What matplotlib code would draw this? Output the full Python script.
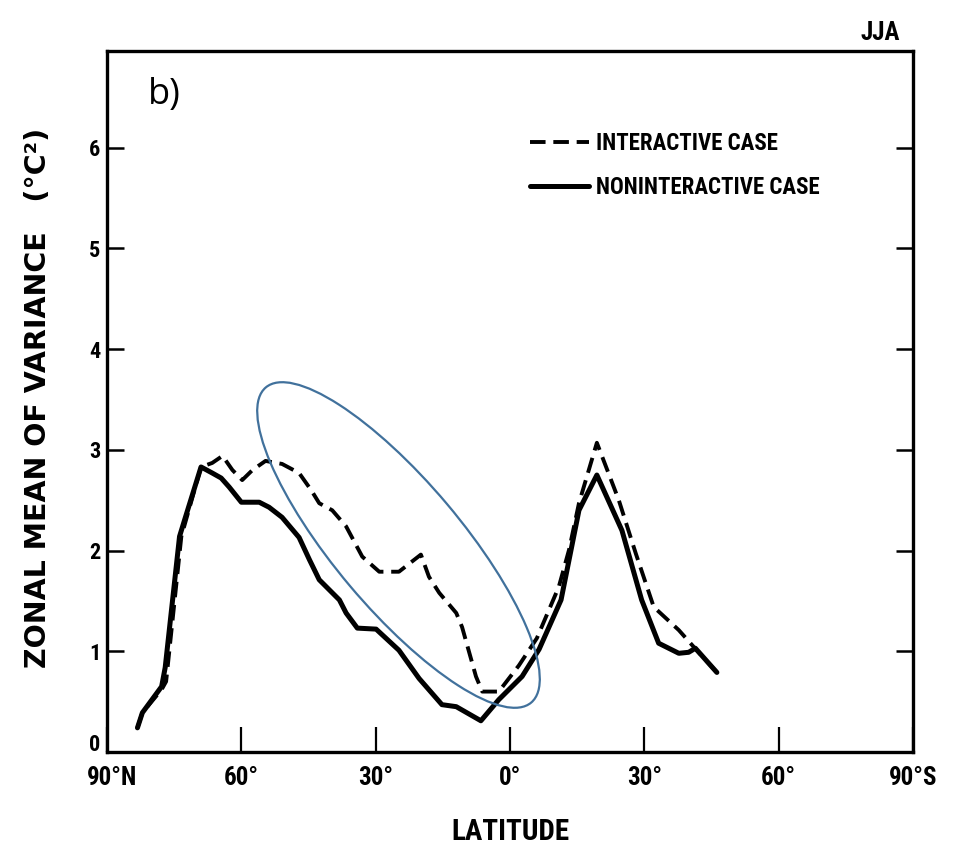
import numpy as np
import matplotlib
matplotlib.use('Agg')
import matplotlib.pyplot as plt
import matplotlib.patches as patches
from matplotlib.transforms import ScaledTranslation

# latitude in degrees: negative = north, positive = south
lat_nonint = [-83.2, -82.1, -77.8, -77.0, -73.8, -72.7, -69.0, -66.5, -64.5, -62.7,
              -60.0, -56.0, -53.8, -50.9, -47.1, -44.8, -42.6, -38.1, -36.6, -34.1,
              -29.9, -24.8, -20.3, -15.2, -12.0, -6.5, -2.5, 2.7, 6.5, 11.4,
              13.2, 15.4, 19.4, 25.0, 29.4, 33.2, 37.7, 39.9, 41.4, 46.2]
var_nonint = [0.24, 0.39, 0.65, 0.84, 2.14, 2.30, 2.83, 2.77, 2.72, 2.63,
              2.48, 2.48, 2.43, 2.33, 2.13, 1.91, 1.71, 1.51, 1.38, 1.23,
              1.22, 1.01, 0.73, 0.47, 0.45, 0.31, 0.52, 0.75, 1.02, 1.51,
              1.91, 2.40, 2.75, 2.20, 1.51, 1.08, 0.98, 0.99, 1.03, 0.79]

lat_inter = [-83.2, -82.1, -77.8, -76.8, -73.4, -69.0, -66.5, -64.2, -62.0, -59.8,
             -57.5, -54.6, -50.9, -47.1, -44.4, -42.6, -39.7, -36.6, -33.0, -29.2,
             -24.8, -19.9, -18.1, -15.8, -12.0, -10.7, -7.6, -6.2, -2.5, 2.0,
             6.0, 10.9, 13.2, 15.4, 19.4, 24.3, 28.1, 32.1, 37.7, 41.7, 46.2]
var_inter = [0.24, 0.39, 0.62, 0.70, 2.14, 2.83, 2.87, 2.94, 2.80, 2.70,
             2.80, 2.89, 2.86, 2.77, 2.60, 2.47, 2.40, 2.24, 1.94, 1.79,
             1.79, 1.96, 1.74, 1.58, 1.38, 1.24, 0.75, 0.60, 0.60, 0.86,
             1.13, 1.64, 2.01, 2.47, 3.07, 2.50, 1.97, 1.44, 1.21, 1.01, 0.79]

xtick_pos = [-90, -60, -30, 0, 30, 60, 90]
xtick_lab = ['90°N', '60°', '30°', '0°', '30°', '60°', '90°S']
ytick_pos = [0, 1, 2, 3, 4, 5, 6]

# narrow bold lettering; falls through to DejaVu if a family is missing
cond = ['Liberation Sans Narrow', 'Roboto Condensed', 'DejaVu Sans']
cfont = dict(family=cond, fontweight='bold', fontstretch='condensed')

fig = plt.figure(figsize=(9.61, 8.5), dpi=100)
ax = fig.add_axes([107/961, 98/850, 806/961, 701/850])

l1, = ax.plot(lat_inter, var_inter, color='black', lw=2.8, dashes=(4.0, 2.0),
              solid_joinstyle='round')
l2, = ax.plot(lat_nonint, var_nonint, color='black', lw=3.6,
              solid_joinstyle='round', solid_capstyle='round')

ax.set_xlim(-90, 90)
ax.set_ylim(0, 6.96)

for s in ax.spines.values():
    s.set_linewidth(2.4)

ax.set_xticks(xtick_pos)
ax.set_xticklabels(xtick_lab, fontsize=18, **cfont)
ax.set_yticks(ytick_pos)
ax.set_yticklabels([str(v) for v in ytick_pos], fontsize=16, **cfont)
ax.tick_params(axis='x', direction='in', length=18, width=1.6, pad=10)
ax.tick_params(axis='y', direction='in', length=12, width=1.8, pad=5,
               right=True, labelright=False)

# the "0" sits a little above the corner, clear of "90°N"
ylab0 = ax.get_yticklabels()[0]
ylab0.set_transform(ylab0.get_transform() + ScaledTranslation(0, 7/72, fig.dpi_scale_trans))
xlab0 = ax.get_xticklabels()[0]
xlab0.set_transform(xlab0.get_transform() + ScaledTranslation(4/72, 0, fig.dpi_scale_trans))

ax.set_xlabel('LATITUDE', fontsize=21, labelpad=20, **cfont)
fig.text(38/961, 1 - 398/850, 'ZONAL MEAN OF VARIANCE   (°C²)', rotation=90,
         ha='center', va='center', fontsize=20.5, fontweight='bold', family='DejaVu Sans')

ax.text(0.984, 1.026, 'JJA', transform=ax.transAxes, ha='right', va='center',
        fontsize=18, **cfont)
ax.text(0.051, 0.937, 'b)', transform=ax.transAxes, ha='left', va='center',
        family='Open Sans', fontsize=26)

leg = ax.legend([l1, l2], ['INTERACTIVE CASE', 'NONINTERACTIVE CASE'],
                loc='upper left', bbox_to_anchor=(0.499, 0.914), frameon=False,
                handlelength=2.6, handletextpad=0.3, labelspacing=0.9,
                prop={'family': cond, 'weight': 'bold', 'stretch': 'condensed', 'size': 16.5})

# blue highlight ellipse (drawn in inches on the figure)
ell = patches.Ellipse((398.5/100, (850 - 545)/100), 4.12, 1.27, angle=-49.9,
                      transform=fig.dpi_scale_trans, fill=False,
                      edgecolor='#41719C', lw=1.6)
fig.add_artist(ell)

fig.savefig('out.png', dpi=100)
